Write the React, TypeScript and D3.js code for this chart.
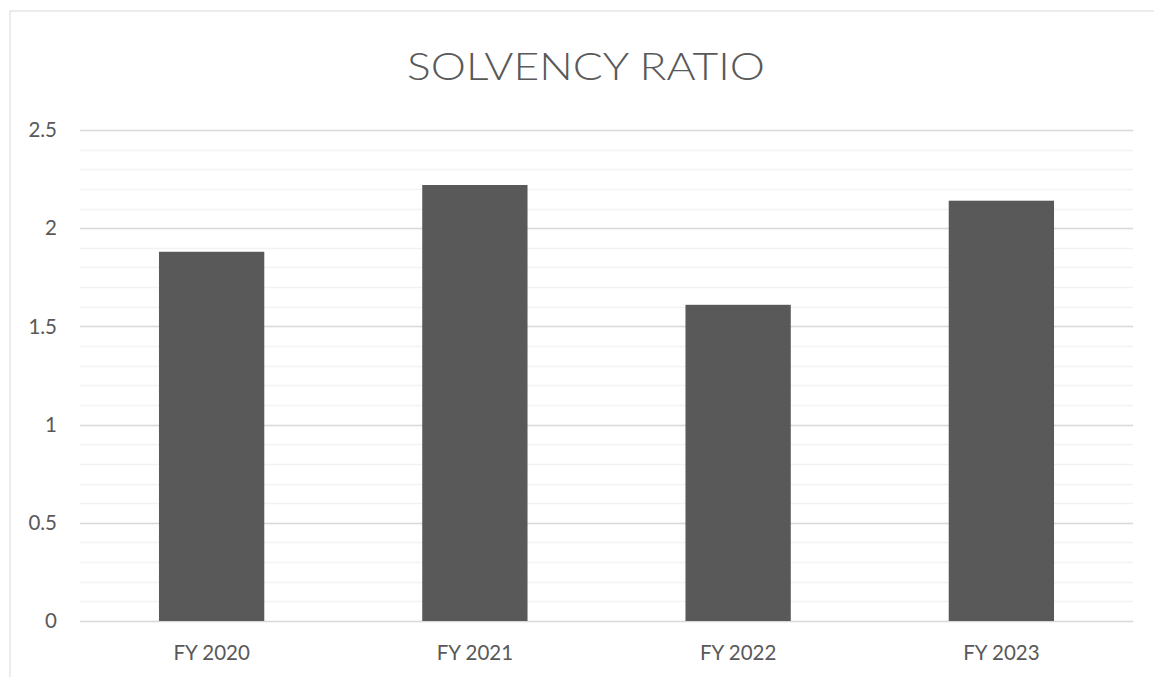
import React from "react";
import * as d3 from "d3";

const categories = ["FY 2020", "FY 2021", "FY 2022", "FY 2023"];
const values = [1.88, 2.22, 1.61, 2.14];
const majorTicks = [0, 0.5, 1, 1.5, 2, 2.5];
const minorTicks = d3.range(0, 2.5001, 0.1);
const title = "SOLVENCY RATIO";

export default function App() {
  const W = 1154, H = 677;
  const left = 80, right = 1133, top = 130, bottom = 621;
  const x = d3.scaleBand<string>().domain(categories).range([left, right]).paddingInner(0.6).paddingOuter(0.3);
  const y = d3.scaleLinear().domain([0, 2.5]).range([bottom, top]);
  const textColor = "#595959";
  const font = "Lato, 'Open Sans', sans-serif";
  return (
    <svg width={W} height={H} style={{ position: "absolute", left: 0, top: 0, background: "#fff" }}>
      <rect x={10} y={11} width={W + 20} height={H + 20} fill="#fff" stroke="#d9d9d9" strokeWidth={1} />
      <text x={586} y={80} textAnchor="middle" fill={textColor} fontFamily={font} fontWeight={300} fontSize={38} textLength={358} lengthAdjust="spacingAndGlyphs">{title}</text>
      {minorTicks.map((t, i) => (
        <line key={"m" + i} x1={left} x2={right} y1={Math.round(y(t)) + 0.5} y2={Math.round(y(t)) + 0.5} stroke="#f2f2f2" strokeWidth={1.5} />
      ))}
      {majorTicks.map((t, i) => (
        <line key={"M" + i} x1={left} x2={right} y1={Math.round(y(t)) + 0.5} y2={Math.round(y(t)) + 0.5} stroke="#d9d9d9" strokeWidth={1.5} />
      ))}
      {categories.map((c, i) => (
        <rect key={c} x={x(c)!} y={y(values[i])} width={x.bandwidth()} height={y(0) - y(values[i])} fill="#595959" />
      ))}
      {majorTicks.map((t, i) => (
        <text key={"t" + i} x={57} y={y(t)} dy="0.35em" textAnchor="end" fill={textColor} fontFamily={font} fontSize={20.5}>{String(t)}</text>
      ))}
      {categories.map((c) => (
        <text key={"c" + c} x={x(c)! + x.bandwidth() / 2} y={653} dy="0.35em" textAnchor="middle" fill={textColor} fontFamily={font} fontSize={20.5}>{c}</text>
      ))}
    </svg>
  );
}
